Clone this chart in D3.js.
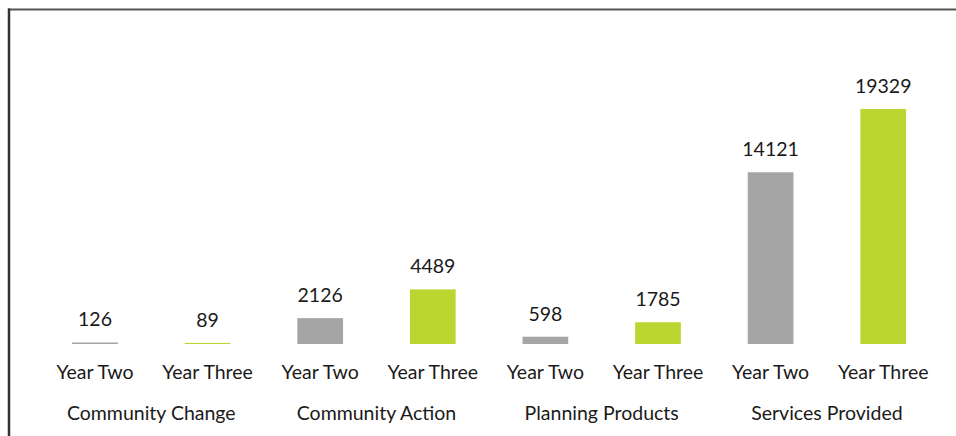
<!DOCTYPE html>
<html>
<head>
<meta charset="utf-8">
<script src="https://cdn.jsdelivr.net/npm/d3@7"></script>
<style>
  html, body { margin: 0; padding: 0; background: #ffffff; }
  svg { display: block; }
  text { font-family: "Lato", "Open Sans", sans-serif; fill: #1a1a1a; }
</style>
</head>
<body>
<svg id="chart" width="956" height="436"></svg>
<script>
// Groups along the x axis and the two years compared in each
const groups = ["Community Change", "Community Action", "Planning Products", "Services Provided"];
const years = ["Year Two", "Year Three"];
const yearTwo = [126, 2126, 598, 14121];
const yearThree = [89, 4489, 1785, 19329];
const yearColors = ["#a5a5a5", "#bcd631"];

// One entry per bar, in drawing order
const bars = [];
groups.forEach((g, i) => {
  bars.push({ key: g + "|" + years[0], group: g, year: years[0], value: yearTwo[i], yi: 0 });
  bars.push({ key: g + "|" + years[1], group: g, year: years[1], value: yearThree[i], yi: 1 });
});

const W = 956, H = 436;
const FS = 19.5;
const svg = d3.select("#chart");

// Frame around the chart
svg.append("line").attr("x1", 8).attr("x2", 956).attr("y1", 9.5).attr("y2", 9.5)
  .attr("stroke", "#555555").attr("stroke-width", 2);
svg.append("line").attr("x1", 9).attr("x2", 9).attr("y1", 8.5).attr("y2", H)
  .attr("stroke", "#333333").attr("stroke-width", 2.5);

const x = d3.scaleBand()
  .domain(bars.map(d => d.key))
  .range([38.7, 939.5])
  .paddingInner(0.594)
  .paddingOuter(0.297);

const y = d3.scaleLinear().domain([0, 20000]).range([344, 100.8]);

const g = svg.append("g");

g.selectAll("rect.bar")
  .data(bars)
  .join("rect")
  .attr("class", "bar")
  .attr("x", d => x(d.key))
  .attr("width", x.bandwidth())
  .attr("y", d => y(d.value))
  .attr("height", d => y(0) - y(d.value))
  .attr("fill", d => yearColors[d.yi]);

// Value labels above each bar
g.selectAll("text.value")
  .data(bars)
  .join("text")
  .attr("class", "value")
  .attr("x", d => x(d.key) + x.bandwidth() / 2)
  .attr("y", d => y(d.value) - 16)
  .attr("text-anchor", "middle")
  .attr("font-size", FS)
  .text(d => d.value);

// Year labels under each bar
g.selectAll("text.year")
  .data(bars)
  .join("text")
  .attr("class", "year")
  .attr("x", d => x(d.key) + x.bandwidth() / 2)
  .attr("y", 379)
  .attr("text-anchor", "middle")
  .attr("font-size", FS)
  .text(d => d.year);

// Group labels centred under each pair
g.selectAll("text.group")
  .data(groups)
  .join("text")
  .attr("class", "group")
  .attr("x", gname => {
    const a = x(gname + "|" + years[0]), b = x(gname + "|" + years[1]);
    return (a + b + x.bandwidth()) / 2;
  })
  .attr("y", 420)
  .attr("text-anchor", "middle")
  .attr("font-size", FS)
  .text(gname => gname);
</script>
</body>
</html>
